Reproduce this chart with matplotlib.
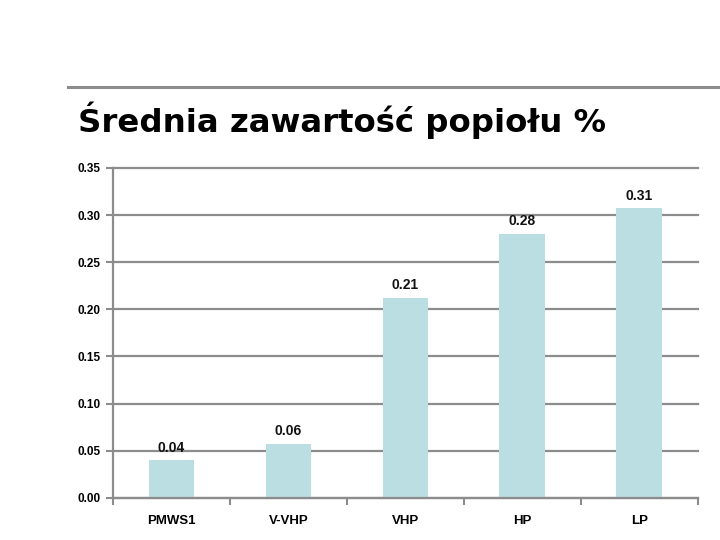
import matplotlib.pyplot as plt
from matplotlib.lines import Line2D

kategorie = ['PMWS1', 'V-VHP', 'VHP', 'HP', 'LP']
wartosci = [0.04, 0.057, 0.212, 0.28, 0.307]
etykiety = ['0.04', '0.06', '0.21', '0.28', '0.31']
ticki_y = [0.00, 0.05, 0.10, 0.15, 0.20, 0.25, 0.30, 0.35]

szary = '#8c8c8c'
kolor_slupka = '#badee2'

fig = plt.figure(figsize=(7.2, 5.4), dpi=100)
ax = fig.add_axes([0.157, 0.078, 0.812, 0.611])

x = range(len(kategorie))
ax.bar(x, wartosci, width=0.39, color=kolor_slupka, zorder=2)
for xi, v, t in zip(x, wartosci, etykiety):
    ax.text(xi, v + 0.006, t, ha='center', va='bottom', fontsize=10,
            fontweight='bold', family='Liberation Sans', color='#111111')

ax.set_xlim(-0.5, len(kategorie) - 0.5)
ax.set_ylim(0, 0.35)
ax.set_yticks(ticki_y)
ax.set_yticklabels(['%.2f' % t for t in ticki_y], fontsize=8.5,
                   fontweight='bold', family='Liberation Sans')
for g in ax.yaxis.get_gridlines():
    g.set_clip_on(False)
ax.yaxis.grid(True, color=szary, linewidth=1.6, zorder=0)
for g in ax.yaxis.get_gridlines():
    g.set_clip_on(False)
ax.set_axisbelow(True)

# etykiety kategorii bez kresek, kreski na granicach
ax.set_xticks(list(x))
ax.set_xticklabels(kategorie, fontsize=9.5, fontweight='bold', family='Liberation Sans')
ax.tick_params(axis='x', length=0, pad=12)
ax.set_xticks([i + 0.5 for i in range(-1, len(kategorie))], minor=True)
ax.tick_params(axis='x', which='minor', length=5, color=szary, width=1.5)
ax.tick_params(axis='y', length=5, color=szary, width=1.5, pad=4)

for s in ['top', 'right']:
    ax.spines[s].set_visible(False)
for s in ['left', 'bottom']:
    ax.spines[s].set_color(szary)
    ax.spines[s].set_linewidth(1.6)

fig.add_artist(Line2D([0.094, 1.0], [0.839, 0.839], color=szary, linewidth=2.2,
                      transform=fig.transFigure))
fig.text(0.108, 0.778, 'Średnia zawartość popiołu %', fontsize=23.3,
         fontweight='bold', va='center', ha='left', family='DejaVu Sans')

fig.savefig('out.png', dpi=100)
plt.close()
